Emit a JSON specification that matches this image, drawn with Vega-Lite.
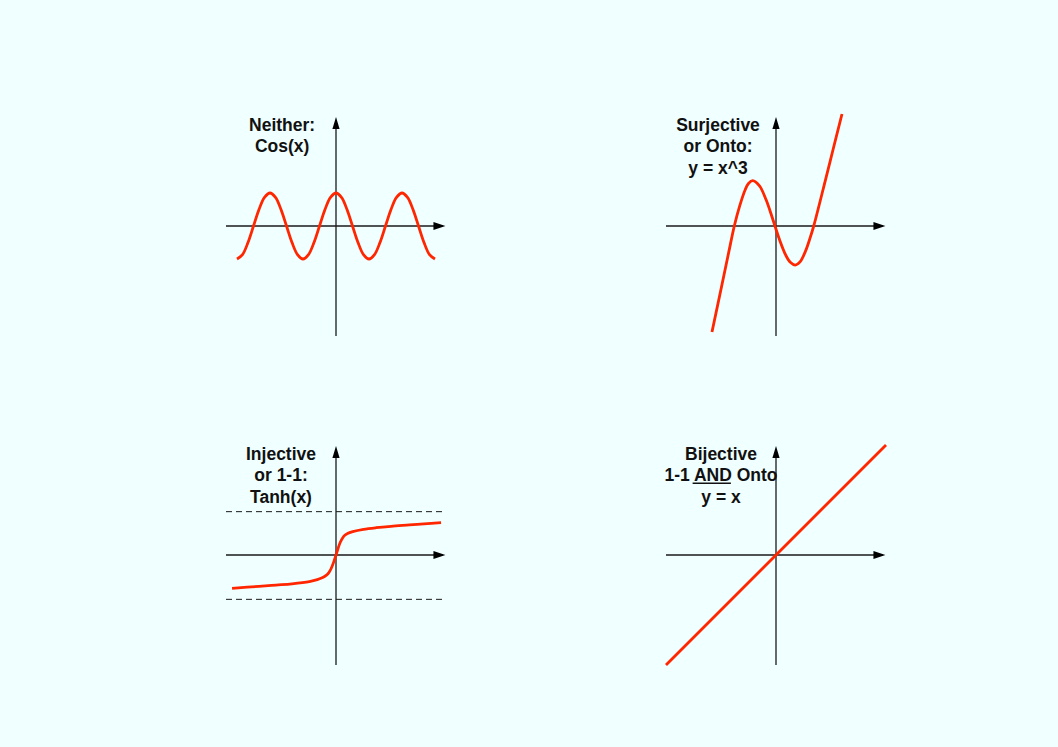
{
  "$schema": "https://vega.github.io/schema/vega-lite/v6.json",
  "background": "#f0ffff",
  "padding": {"left": 225, "top": 108, "right": 173, "bottom": 82},
  "bounds": "flush",
  "data": {
    "values": [
      {"row": 1, "col": 1, "kind": "axis", "x": -1, "x2": 0.97, "y": 0, "y2": 0},
      {"row": 1, "col": 1, "kind": "axis", "x": 0, "x2": 0, "y": -1, "y2": 0.96},
      {"row": 1, "col": 1, "kind": "tipx", "x": 0.995, "y": 0},
      {"row": 1, "col": 1, "kind": "tipy", "x": 0, "y": 0.99},
      {"row": 1, "col": 1, "kind": "label", "x": -0.49, "y": 0.868, "label": "Neither:\nCos(x)"},
      {"row": 1, "col": 1, "kind": "curve", "x": -0.9, "y": -0.3},
      {"row": 1, "col": 1, "kind": "curve", "x": -0.85, "y": -0.26},
      {"row": 1, "col": 1, "kind": "curve", "x": -0.8, "y": -0.15},
      {"row": 1, "col": 1, "kind": "curve", "x": -0.75, "y": 0},
      {"row": 1, "col": 1, "kind": "curve", "x": -0.7, "y": 0.15},
      {"row": 1, "col": 1, "kind": "curve", "x": -0.65, "y": 0.26},
      {"row": 1, "col": 1, "kind": "curve", "x": -0.6, "y": 0.3},
      {"row": 1, "col": 1, "kind": "curve", "x": -0.55, "y": 0.26},
      {"row": 1, "col": 1, "kind": "curve", "x": -0.5, "y": 0.15},
      {"row": 1, "col": 1, "kind": "curve", "x": -0.45, "y": 0},
      {"row": 1, "col": 1, "kind": "curve", "x": -0.4, "y": -0.15},
      {"row": 1, "col": 1, "kind": "curve", "x": -0.35, "y": -0.26},
      {"row": 1, "col": 1, "kind": "curve", "x": -0.3, "y": -0.3},
      {"row": 1, "col": 1, "kind": "curve", "x": -0.25, "y": -0.26},
      {"row": 1, "col": 1, "kind": "curve", "x": -0.2, "y": -0.15},
      {"row": 1, "col": 1, "kind": "curve", "x": -0.15, "y": 0},
      {"row": 1, "col": 1, "kind": "curve", "x": -0.1, "y": 0.15},
      {"row": 1, "col": 1, "kind": "curve", "x": -0.05, "y": 0.26},
      {"row": 1, "col": 1, "kind": "curve", "x": 0, "y": 0.3},
      {"row": 1, "col": 1, "kind": "curve", "x": 0.05, "y": 0.26},
      {"row": 1, "col": 1, "kind": "curve", "x": 0.1, "y": 0.15},
      {"row": 1, "col": 1, "kind": "curve", "x": 0.15, "y": 0},
      {"row": 1, "col": 1, "kind": "curve", "x": 0.2, "y": -0.15},
      {"row": 1, "col": 1, "kind": "curve", "x": 0.25, "y": -0.26},
      {"row": 1, "col": 1, "kind": "curve", "x": 0.3, "y": -0.3},
      {"row": 1, "col": 1, "kind": "curve", "x": 0.35, "y": -0.26},
      {"row": 1, "col": 1, "kind": "curve", "x": 0.4, "y": -0.15},
      {"row": 1, "col": 1, "kind": "curve", "x": 0.45, "y": 0},
      {"row": 1, "col": 1, "kind": "curve", "x": 0.5, "y": 0.15},
      {"row": 1, "col": 1, "kind": "curve", "x": 0.55, "y": 0.26},
      {"row": 1, "col": 1, "kind": "curve", "x": 0.6, "y": 0.3},
      {"row": 1, "col": 1, "kind": "curve", "x": 0.65, "y": 0.26},
      {"row": 1, "col": 1, "kind": "curve", "x": 0.7, "y": 0.15},
      {"row": 1, "col": 1, "kind": "curve", "x": 0.75, "y": 0},
      {"row": 1, "col": 1, "kind": "curve", "x": 0.8, "y": -0.15},
      {"row": 1, "col": 1, "kind": "curve", "x": 0.85, "y": -0.26},
      {"row": 1, "col": 1, "kind": "curve", "x": 0.9, "y": -0.3},

      {"row": 1, "col": 2, "kind": "axis", "x": -1, "x2": 0.97, "y": 0, "y2": 0},
      {"row": 1, "col": 2, "kind": "axis", "x": 0, "x2": 0, "y": -1, "y2": 0.96},
      {"row": 1, "col": 2, "kind": "tipx", "x": 0.995, "y": 0},
      {"row": 1, "col": 2, "kind": "tipy", "x": 0, "y": 0.99},
      {"row": 1, "col": 2, "kind": "label", "x": -0.527, "y": 0.868, "label": "Surjective\nor Onto:\ny = x^3"},
      {"row": 1, "col": 2, "kind": "curve", "x": -0.582, "y": -0.964},
      {"row": 1, "col": 2, "kind": "curve", "x": -0.5, "y": -0.575},
      {"row": 1, "col": 2, "kind": "curve", "x": -0.43, "y": -0.24},
      {"row": 1, "col": 2, "kind": "curve", "x": -0.379, "y": 0},
      {"row": 1, "col": 2, "kind": "curve", "x": -0.33, "y": 0.183},
      {"row": 1, "col": 2, "kind": "curve", "x": -0.28, "y": 0.33},
      {"row": 1, "col": 2, "kind": "curve", "x": -0.25, "y": 0.386},
      {"row": 1, "col": 2, "kind": "curve", "x": -0.212, "y": 0.412},
      {"row": 1, "col": 2, "kind": "curve", "x": -0.15, "y": 0.364},
      {"row": 1, "col": 2, "kind": "curve", "x": -0.09, "y": 0.238},
      {"row": 1, "col": 2, "kind": "curve", "x": -0.03, "y": 0.064},
      {"row": 1, "col": 2, "kind": "curve", "x": 0.03, "y": -0.119},
      {"row": 1, "col": 2, "kind": "curve", "x": 0.09, "y": -0.268},
      {"row": 1, "col": 2, "kind": "curve", "x": 0.13, "y": -0.33},
      {"row": 1, "col": 2, "kind": "curve", "x": 0.175, "y": -0.355},
      {"row": 1, "col": 2, "kind": "curve", "x": 0.22, "y": -0.324},
      {"row": 1, "col": 2, "kind": "curve", "x": 0.27, "y": -0.224},
      {"row": 1, "col": 2, "kind": "curve", "x": 0.31, "y": -0.108},
      {"row": 1, "col": 2, "kind": "curve", "x": 0.343, "y": 0},
      {"row": 1, "col": 2, "kind": "curve", "x": 0.45, "y": 0.42},
      {"row": 1, "col": 2, "kind": "curve", "x": 0.52, "y": 0.7},
      {"row": 1, "col": 2, "kind": "curve", "x": 0.6, "y": 1.018},

      {"row": 2, "col": 1, "kind": "axis", "x": -1, "x2": 0.97, "y": 0, "y2": 0},
      {"row": 2, "col": 1, "kind": "axis", "x": 0, "x2": 0, "y": -1, "y2": 0.96},
      {"row": 2, "col": 1, "kind": "tipx", "x": 0.995, "y": 0},
      {"row": 2, "col": 1, "kind": "tipy", "x": 0, "y": 0.99},
      {"row": 2, "col": 1, "kind": "dash", "x": -1, "x2": 1, "y": 0.394},
      {"row": 2, "col": 1, "kind": "dash", "x": -1, "x2": 1, "y": -0.403},
      {"row": 2, "col": 1, "kind": "label", "x": -0.5, "y": 0.868, "label": "Injective\nor 1-1:\nTanh(x)"},
      {"row": 2, "col": 1, "kind": "curve", "x": -0.945, "y": -0.303},
      {"row": 2, "col": 1, "kind": "curve", "x": -0.7, "y": -0.285},
      {"row": 2, "col": 1, "kind": "curve", "x": -0.545, "y": -0.273},
      {"row": 2, "col": 1, "kind": "curve", "x": -0.4, "y": -0.262},
      {"row": 2, "col": 1, "kind": "curve", "x": -0.242, "y": -0.242},
      {"row": 2, "col": 1, "kind": "curve", "x": -0.17, "y": -0.224},
      {"row": 2, "col": 1, "kind": "curve", "x": -0.121, "y": -0.205},
      {"row": 2, "col": 1, "kind": "curve", "x": -0.09, "y": -0.186},
      {"row": 2, "col": 1, "kind": "curve", "x": -0.065, "y": -0.16},
      {"row": 2, "col": 1, "kind": "curve", "x": -0.045, "y": -0.125},
      {"row": 2, "col": 1, "kind": "curve", "x": -0.022, "y": -0.067},
      {"row": 2, "col": 1, "kind": "curve", "x": 0, "y": 0},
      {"row": 2, "col": 1, "kind": "curve", "x": 0.02, "y": 0.064},
      {"row": 2, "col": 1, "kind": "curve", "x": 0.04, "y": 0.118},
      {"row": 2, "col": 1, "kind": "curve", "x": 0.06, "y": 0.155},
      {"row": 2, "col": 1, "kind": "curve", "x": 0.08, "y": 0.179},
      {"row": 2, "col": 1, "kind": "curve", "x": 0.105, "y": 0.196},
      {"row": 2, "col": 1, "kind": "curve", "x": 0.152, "y": 0.212},
      {"row": 2, "col": 1, "kind": "curve", "x": 0.25, "y": 0.233},
      {"row": 2, "col": 1, "kind": "curve", "x": 0.364, "y": 0.248},
      {"row": 2, "col": 1, "kind": "curve", "x": 0.5, "y": 0.261},
      {"row": 2, "col": 1, "kind": "curve", "x": 0.667, "y": 0.273},
      {"row": 2, "col": 1, "kind": "curve", "x": 0.8, "y": 0.283},
      {"row": 2, "col": 1, "kind": "curve", "x": 0.955, "y": 0.294},

      {"row": 2, "col": 2, "kind": "axis", "x": -1, "x2": 0.97, "y": 0, "y2": 0},
      {"row": 2, "col": 2, "kind": "axis", "x": 0, "x2": 0, "y": -1, "y2": 0.96},
      {"row": 2, "col": 2, "kind": "tipx", "x": 0.995, "y": 0},
      {"row": 2, "col": 2, "kind": "tipy", "x": 0, "y": 0.99},
      {"row": 2, "col": 2, "kind": "label", "x": -0.5, "y": 0.868, "label": "Bijective\n1-1 AND Onto\ny = x"},
      {"row": 2, "col": 2, "kind": "underline", "x": -0.758, "x2": -0.41, "y": 0.652},
      {"row": 2, "col": 2, "kind": "curve", "x": -1, "y": -1},
      {"row": 2, "col": 2, "kind": "curve", "x": 1, "y": 1}
    ]
  },
  "facet": {
    "row": {"field": "row", "type": "ordinal", "title": null, "header": null},
    "column": {"field": "col", "type": "ordinal", "title": null, "header": null}
  },
  "spacing": {"row": 109, "column": 220},
  "spec": {
    "width": 220,
    "height": 220,
    "encoding": {
      "x": {"field": "x", "type": "quantitative", "scale": {"domain": [-1, 1], "nice": false, "zero": false}, "axis": null},
      "y": {"field": "y", "type": "quantitative", "scale": {"domain": [-1, 1], "nice": false, "zero": false}, "axis": null}
    },
    "layer": [
      {
        "transform": [{"filter": "datum.kind === 'axis'"}],
        "mark": {"type": "rule", "color": "#1a1a1a", "strokeWidth": 1.3},
        "encoding": {"x2": {"field": "x2"}, "y2": {"field": "y2"}}
      },
      {
        "transform": [{"filter": "datum.kind === 'dash'"}],
        "mark": {"type": "rule", "color": "#1a1a1a", "strokeWidth": 1, "strokeDash": [6, 4]},
        "encoding": {"x2": {"field": "x2"}}
      },
      {
        "transform": [{"filter": "datum.kind === 'curve'"}],
        "mark": {"type": "line", "color": "#ff2600", "strokeWidth": 2.8, "interpolate": "catmull-rom"}
      },
      {
        "transform": [{"filter": "datum.kind === 'tipx'"}],
        "mark": {"type": "point", "filled": true, "opacity": 1, "color": "#000000", "strokeWidth": 0, "size": 144, "shape": "M0,0L-2,-0.667L-2,0.667Z"}
      },
      {
        "transform": [{"filter": "datum.kind === 'tipy'"}],
        "mark": {"type": "point", "filled": true, "opacity": 1, "color": "#000000", "strokeWidth": 0, "size": 144, "shape": "M0,0L-0.6,2L0.6,2Z"}
      },
      {
        "transform": [{"filter": "datum.kind === 'label'"}],
        "mark": {"type": "text", "lineBreak": "\n", "lineHeight": 21.7, "align": "center", "baseline": "alphabetic", "font": "Liberation Sans", "fontWeight": "bold", "fontSize": 17.5, "color": "#111111"},
        "encoding": {"text": {"field": "label"}}
      },
      {
        "transform": [{"filter": "datum.kind === 'underline'"}],
        "mark": {"type": "rule", "color": "#111111", "strokeWidth": 1.5},
        "encoding": {"x2": {"field": "x2"}}
      }
    ]
  },
  "config": {"view": {"stroke": null}}
}
